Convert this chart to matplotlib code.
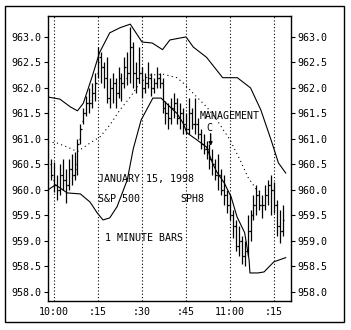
import matplotlib
matplotlib.use("Agg")
import matplotlib.pyplot as plt
from matplotlib.patches import Rectangle

# minutes after 10:00
minutes = list(range(-1, 79))
highs = [960.6, 960.55, 960.3, 960.5, 960.6, 960.4, 960.6, 960.7, 960.75, 961.0,
         961.3, 961.6, 961.85, 962.0, 962.1, 962.3, 962.8, 962.7, 962.5, 962.6,
         962.2, 962.3, 962.2, 962.4, 962.3, 962.6, 962.7, 963.2, 962.9, 962.5,
         962.8, 962.4, 962.3, 962.5, 962.3, 962.2, 962.4, 962.3, 962.2, 961.75,
         961.7, 961.8, 961.9, 961.8, 961.7, 961.6, 961.5, 961.8, 961.6, 961.8,
         961.4, 961.2, 961.1, 960.95, 960.9, 960.8, 960.6, 960.7, 960.4, 960.3,
         960.0, 959.9, 959.6, 959.4, 959.3, 959.1, 959.0, 959.5, 959.6, 959.9,
         960.1, 960.0, 959.9, 960.1, 960.2, 960.3, 960.15, 959.8, 959.6, 959.7]
lows = [960.2, 959.95, 959.8, 959.9, 960.0, 959.75, 960.0, 960.1, 960.2, 960.3,
        960.9, 961.3, 961.45, 961.5, 961.6, 961.75, 962.2, 962.1, 962.0, 961.7,
        961.6, 961.7, 961.6, 961.8, 961.75, 962.0, 962.05, 962.1, 962.0, 961.9,
        962.1, 961.8, 961.9, 962.0, 961.85, 961.9, 962.0, 962.0, 961.5, 961.3,
        961.2, 961.3, 961.4, 961.3, 961.2, 961.1, 961.1, 961.1, 961.2, 961.1,
        961.0, 960.8, 960.7, 960.6, 960.4, 960.3, 960.2, 960.0, 959.9, 959.7,
        959.55, 959.4, 959.05, 958.8, 958.7, 958.55, 958.5, 958.7, 959.0, 959.4,
        959.5, 959.6, 959.45, 959.6, 959.7, 959.5, 959.55, 959.1, 958.95, 959.1]
opens = [960.5, 960.2, 960.1, 960.0, 960.3, 960.2, 960.1, 960.4, 960.3, 960.4,
         961.0, 961.35, 961.5, 961.7, 961.7, 961.9, 962.3, 962.6, 962.4, 962.2,
         961.8, 962.0, 962.1, 961.9, 962.2, 962.1, 962.2, 962.3, 962.8, 962.3,
         962.2, 962.3, 962.0, 962.1, 962.2, 962.0, 962.1, 962.2, 962.1, 961.6,
         961.5, 961.4, 961.6, 961.7, 961.4, 961.5, 961.3, 961.2, 961.5, 961.3,
         961.3, 961.1, 960.9, 960.8, 960.8, 960.6, 960.5, 960.3, 960.3, 960.0,
         959.9, 959.7, 959.5, 959.3, 958.9, 959.0, 958.7, 958.8, 959.2, 959.5,
         959.7, 959.9, 959.7, 959.7, 959.9, 960.1, 960.0, 959.7, 959.3, 959.2]
closes = [960.3, 960.1, 960.0, 960.3, 960.2, 960.1, 960.4, 960.3, 960.5, 960.9,
          961.2, 961.5, 961.7, 961.7, 961.9, 962.1, 962.5, 962.4, 962.2, 961.8,
          962.0, 962.1, 961.9, 962.2, 962.1, 962.4, 962.3, 962.8, 962.3, 962.2,
          962.3, 962.0, 962.1, 962.2, 962.0, 962.1, 962.2, 962.1, 961.6, 961.5,
          961.4, 961.6, 961.7, 961.4, 961.5, 961.3, 961.2, 961.5, 961.3, 961.3,
          961.1, 960.9, 960.8, 960.8, 960.6, 960.5, 960.3, 960.3, 960.0, 959.9,
          959.7, 959.5, 959.3, 958.9, 959.0, 958.7, 958.8, 959.2, 959.5, 959.7,
          959.9, 959.7, 959.7, 959.9, 960.1, 960.0, 959.7, 959.3, 959.2, 959.4]

upper_x = [-2, 2, 5.5, 8, 10, 13, 15.5, 19, 22.5, 26, 30, 33.5, 37, 39.5,
           45, 47.5, 52, 57.5, 62.5, 67, 70.5, 74, 76.5, 79]
upper_y = [961.82, 961.78, 961.63, 961.55, 961.7, 962.22, 962.69, 963.08,
           963.18, 963.25, 962.9, 962.88, 962.75, 962.94, 963.0, 962.8, 962.6,
           962.2, 962.2, 962.0, 961.57, 960.98, 960.53, 960.33]
lower_x = [-2, 0.5, 4.5, 9, 12.3, 14.7, 16.7, 19, 21.5, 25, 27, 29.7, 33.7,
           36.5, 39.5, 41.9, 44, 45.3, 48.7, 52, 54, 55.5, 58, 60.4, 62.4,
           65, 66.5, 66.8, 69.5, 71.6, 75, 79]
lower_y = [960.0, 960.1, 959.94, 959.92, 959.76, 959.55, 959.41, 959.45,
           959.67, 960.2, 960.8, 961.37, 961.8, 961.8, 961.63, 961.5, 961.31,
           961.12, 960.98, 960.84, 960.53, 960.35, 960.14, 959.86, 959.47,
           959.16, 958.63, 958.37, 958.37, 958.39, 958.59, 958.67]
mid_x = [-2, 1, 4.5, 8, 12.3, 15.7, 19, 22.5, 26, 29.3, 32.7, 37.1, 41.9,
         44, 48.7, 52, 55.5, 60, 63.4, 66.1, 69.6]
mid_y = [960.94, 960.92, 960.84, 960.75, 960.92, 961.04, 961.27, 961.57,
         961.82, 962.1, 962.25, 962.27, 962.2, 962.1, 961.82, 961.63, 961.37,
         960.98, 960.59, 960.25, 959.96]

xtick_pos = [0, 15, 30, 45, 60, 75]
xtick_labels = ["10:00", ":15", ":30", ":45", "11:00", ":15"]
ytick_pos = [958.0, 958.5, 959.0, 959.5, 960.0, 960.5, 961.0, 961.5, 962.0, 962.5, 963.0]

plt.rcParams['font.family'] = 'DejaVu Sans Mono'
fs = 7.2

fig = plt.figure(figsize=(3.51, 3.30), dpi=100)
fig.patches.append(Rectangle((5 / 351, 8 / 330), 339 / 351, 316 / 330,
                             transform=fig.transFigure, fill=False,
                             edgecolor='black', linewidth=1.0))
ax = fig.add_axes([48 / 351, 29 / 330, 243 / 351, 285 / 330])

# vertical dotted grid at time ticks
for xp in xtick_pos:
    ax.axvline(xp, color='black', linestyle=(0, (1, 2)), linewidth=0.8, zorder=1)

ax.plot(upper_x, upper_y, color='black', linewidth=0.8, zorder=2)
ax.plot(lower_x, lower_y, color='black', linewidth=0.8, zorder=2)
ax.plot(mid_x, mid_y, color='black', linestyle=(0, (1, 3)), linewidth=0.8, zorder=2)

# one minute OHLC bars
ax.vlines(minutes, lows, highs, color='black', linewidth=0.9, zorder=3)
ax.hlines(opens, [m - 0.5 for m in minutes], minutes, color='black', linewidth=0.9, zorder=3)
ax.hlines(closes, minutes, [m + 0.5 for m in minutes], color='black', linewidth=0.9, zorder=3)

ax.text(15.0, 960.22, "JANUARY 15, 1998", fontsize=fs, va='center', ha='left')
ax.text(15.0, 959.82, "S&P 500", fontsize=fs, va='center', ha='left')
ax.text(43.0, 959.82, "SPH8", fontsize=fs, va='center', ha='left')
ax.text(17.4, 959.06, "1 MINUTE BARS", fontsize=fs, va='center', ha='left')
ax.text(49.8, 961.45, "MANAGEMENT", fontsize=fs, va='center', ha='left')
ax.text(53.0, 961.22, "C", fontsize=fs, va='center', ha='center')
ax.annotate("", xy=(53.4, 960.86), xytext=(53.4, 961.1),
            arrowprops=dict(arrowstyle='-|>', color='black', lw=1.0,
                            mutation_scale=5, shrinkA=0, shrinkB=0))

ax.set_xlim(-2.05, 80.8)
ax.set_ylim(957.82, 963.41)
ax.set_xticks(xtick_pos)
ax.set_xticklabels(xtick_labels, fontsize=fs)
ax.set_yticks(ytick_pos)
ax.set_yticklabels(["%.1f" % v for v in ytick_pos], fontsize=fs)
ax.tick_params(axis='x', length=0, pad=4.5)
ax.tick_params(axis='y', length=3, width=0.8, direction='out', pad=1.5,
               left=True, right=True, labelleft=True, labelright=True)
ax.tick_params(axis='y', which='major', labelright=True)
for lbl in ax.get_yticklabels(which='major'):
    pass
ax.yaxis.set_tick_params(pad=1.5)
for s in ax.spines.values():
    s.set_linewidth(1.0)

fig.savefig("out.png", dpi=100)
